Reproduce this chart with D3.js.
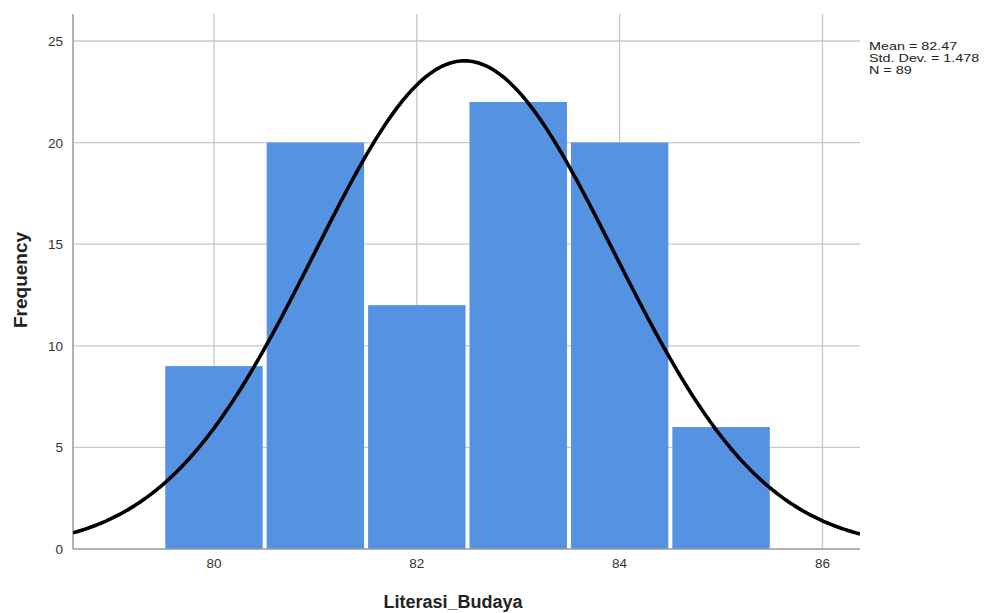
<!DOCTYPE html>
<html>
<head>
<meta charset="utf-8">
<script src="https://cdn.jsdelivr.net/npm/d3@7"></script>
<style>
  html, body { margin: 0; padding: 0; background: #fff; }
  svg { display: block; font-family: "Liberation Sans", Arial, sans-serif; }
</style>
</head>
<body>
<svg id="chart" width="986" height="613"></svg>
<script>
// Histogram bins (centre value) and frequencies
const binCenters = [80, 81, 82, 83, 84, 85];
const frequencies = [9, 20, 12, 22, 20, 6];
const xTicks = [80, 82, 84, 86];
const yTicks = [0, 5, 10, 15, 20, 25];
const statLines = ["Mean = 82.47", "Std. Dev. = 1.478", "N = 89"];
const mean = 82.47, sd = 1.478, n = 89, binWidth = 1;

const svg = d3.select("#chart");
const margin = { left: 73, right: 126, top: 14, bottom: 64 };
const W = 986, H = 613;
const x = d3.scaleLinear().domain([78.61, 86.37]).range([margin.left, W - margin.right]);
const y = d3.scaleLinear().domain([0, 25]).range([H - margin.bottom, 41]);

const gridColor = "#c8c8c8";
// vertical grid lines
svg.append("g").selectAll("line").data(xTicks).join("line")
  .attr("x1", d => x(d)).attr("x2", d => x(d))
  .attr("y1", margin.top).attr("y2", y(0))
  .attr("stroke", gridColor).attr("stroke-width", 1.3);
// horizontal grid lines
svg.append("g").selectAll("line").data(yTicks.filter(d => d > 0)).join("line")
  .attr("x1", margin.left).attr("x2", W - margin.right)
  .attr("y1", d => y(d)).attr("y2", d => y(d))
  .attr("stroke", gridColor).attr("stroke-width", 1.3);

// bars
svg.append("g").selectAll("rect").data(binCenters).join("rect")
  .attr("x", (d) => x(d - binWidth / 2) + 2)
  .attr("width", x(binWidth) - x(0) - 4)
  .attr("y", (d, i) => y(frequencies[i]))
  .attr("height", (d, i) => y(0) - y(frequencies[i]))
  .attr("fill", "#5592e2");

// axes lines
svg.append("line").attr("x1", margin.left).attr("x2", margin.left)
  .attr("y1", margin.top).attr("y2", y(0)).attr("stroke", "#9a9a9a").attr("stroke-width", 1.5);
svg.append("line").attr("x1", margin.left).attr("x2", W - margin.right)
  .attr("y1", y(0)).attr("y2", y(0)).attr("stroke", "#9a9a9a").attr("stroke-width", 1.5);

// normal curve
const clipId = "plotclip";
svg.append("clipPath").attr("id", clipId).append("rect")
  .attr("x", margin.left).attr("y", 0).attr("width", W - margin.right - margin.left).attr("height", y(0));
const pdf = v => n * binWidth / (sd * Math.sqrt(2 * Math.PI)) * Math.exp(-0.5 * ((v - mean) / sd) ** 2);
const xs = d3.range(x.domain()[0], x.domain()[1] + 0.01, 0.02);
svg.append("path").datum(xs)
  .attr("clip-path", `url(#${clipId})`)
  .attr("d", d3.line().x(d => x(d)).y(d => y(pdf(d))))
  .attr("fill", "none").attr("stroke", "#000").attr("stroke-width", 3.6);

// tick labels
svg.append("g").selectAll("text").data(yTicks).join("text")
  .attr("x", 63).attr("y", d => y(d) + 5)
  .attr("text-anchor", "end").attr("font-size", 13.5).attr("fill", "#333")
  .text(d => d);
svg.append("g").selectAll("text").data(xTicks).join("text")
  .attr("x", d => x(d)).attr("y", y(0) + 19)
  .attr("text-anchor", "middle").attr("font-size", 13.5).attr("fill", "#333")
  .text(d => d);

// axis titles
svg.append("text").attr("transform", `translate(27, 280) rotate(-90)`)
  .attr("text-anchor", "middle").attr("font-size", 19).attr("font-weight", "bold").attr("fill", "#222")
  .text("Frequency");
svg.append("text").attr("x", 453).attr("y", 608)
  .attr("text-anchor", "middle").attr("font-size", 18).attr("font-weight", "bold").attr("fill", "#222")
  .text("Literasi_Budaya");

// summary statistics (slightly widened type)
const stretch = 1.25;
svg.append("g").attr("transform", `scale(${stretch},1)`)
  .selectAll("text").data(statLines).join("text")
  .attr("x", 869 / stretch).attr("y", (d, i) => 50.5 + i * 12)
  .attr("font-size", 11.5).attr("fill", "#222")
  .text(d => d);
</script>
</body>
</html>
